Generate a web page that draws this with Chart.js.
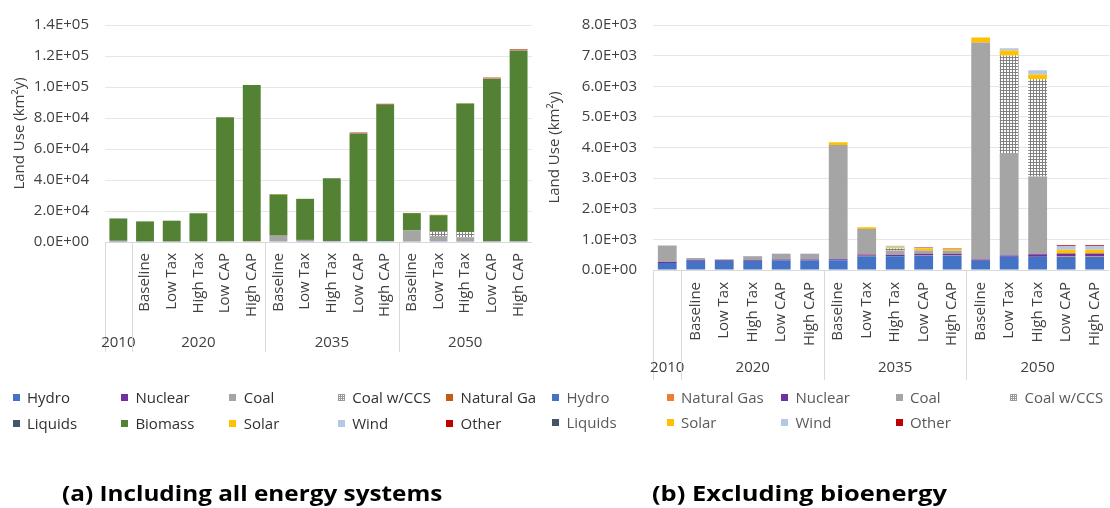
<!DOCTYPE html>
<html><head><meta charset="utf-8">
<script src="https://cdn.jsdelivr.net/npm/chart.js@4"></script>
<style>
 html,body{margin:0;padding:0;background:#fff;}
 body{width:1110px;height:508px;overflow:hidden;position:relative;font-family:'Open Sans',sans-serif;}
 canvas{position:absolute;top:0;}
 #cA{left:0;} #cB{left:535px;}
 .legend{position:absolute;top:0;height:508px;overflow:hidden;}
 .item{position:absolute;white-space:nowrap;font-size:15px;line-height:20px;height:20px;}
 .sw{position:absolute;width:7px;height:7px;top:7px;left:0;}
 .tx{position:absolute;top:0;}
 .cap{position:absolute;font-weight:700;font-size:22px;line-height:28px;white-space:nowrap;color:#000;transform-origin:left center;}
</style></head><body>
<canvas id="cA" width="548" height="375"></canvas>
<canvas id="cB" width="590" height="400"></canvas>
<div class="legend" id="legA" style="left:0;width:537px"></div>
<div class="legend" id="legB" style="left:537px;width:573px"></div>
<div class="cap" id="capA" style="left:62px;top:478px">(a) Including all energy systems</div>
<div class="cap" id="capB" style="left:652px;top:478px">(b) Excluding bioenergy</div>
<script>
// ---------- DATA ----------
const categories = ['', 'Baseline','Low Tax','High Tax','Low CAP','High CAP',
                    'Baseline','Low Tax','High Tax','Low CAP','High CAP',
                    'Baseline','Low Tax','High Tax','Low CAP','High CAP'];
const years = ['2010','2020','2035','2050'];
const yearSizes = [1,5,5,5];

const yTicksA = ['0.0E+00','2.0E+04','4.0E+04','6.0E+04','8.0E+04','1.0E+05','1.2E+05','1.4E+05'];
const yTicksB = ['0.0E+00','1.0E+03','2.0E+03','3.0E+03','4.0E+03','5.0E+03','6.0E+03','7.0E+03','8.0E+03'];

// (a) Including all energy systems
const hydroA   = [230,290,290,290,310,310, 320,450,450,470,470, 300,430,430,430,430];
const nuclearA = [30,30,30,30,30,30, 30,40,40,40,40, 40,40,85,85,85];
const coalA    = [510,70,25,120,180,180, 3735,835,150,110,100, 7090,3350,2535,0,0];
const ccsA     = [0,0,0,0,0,0, 0,0,60,0,0, 0,3185,3175,0,0];
const gasA     = [0,0,0,0,0,0, 0,15,0,20,20, 0,0,0,20,20];
const liquidsA = [25,5,5,5,5,5, 0,0,0,0,0, 0,0,0,0,0];
const biomassA = [14400,12900,13400,18100,79900,100700, 26600,26500,40500,69400,88000, 11200,10300,83100,104800,123000];
const solarA   = [0,0,0,0,0,0, 300,60,40,70,55, 165,300,160,130,130];
const windA    = [0,0,0,10,15,15, 0,0,50,20,20, 0,75,140,120,120];
const otherA   = [0,0,0,0,0,0, 0,0,0,450,450, 0,0,0,450,450];

// (b) Excluding bioenergy
const hydroB   = [230,290,290,290,310,310, 320,450,450,470,470, 300,430,430,430,430];
const gasB     = [0,0,0,0,0,0, 0,15,0,20,20, 0,0,0,20,20];
const nuclearB = [30,30,30,30,30,30, 30,40,40,40,40, 40,40,85,85,85];
const coalB    = [510,70,25,120,180,180, 3735,835,150,110,100, 7090,3350,2535,0,0];
const ccsB     = [0,0,0,0,0,0, 0,0,60,0,0, 0,3185,3175,0,0];
const liquidsB = [25,5,5,5,5,5, 0,0,0,0,0, 0,0,0,0,0];
const solarB   = [0,0,0,0,0,0, 85,60,40,70,55, 165,160,160,130,130];
const windB    = [0,0,0,10,15,15, 0,0,50,20,20, 0,75,140,120,120];
const otherB   = [0,0,0,0,0,0, 0,0,0,15,15, 0,0,0,20,20];

// ---------- STYLE ----------
const C = {hydro:'#4472C4', nuclear:'#7030A0', coal:'#A5A5A5', gasA:'#C55A11', gasB:'#ED7D31',
           liquids:'#44546A', biomass:'#548235', solar:'#FFC000', wind:'#B4C7E7', other:'#C00000'};
function ccsPattern(){
  const c=document.createElement('canvas'); c.width=3; c.height=3;
  const x=c.getContext('2d'); x.fillStyle='#ffffff'; x.fillRect(0,0,3,3);
  x.fillStyle='#808080'; x.fillRect(0,0,3,1); x.fillRect(0,0,1,3);
  return x.createPattern(c,'repeat');
}
const PAT = ccsPattern();
const FONT = {family:"'Open Sans'", size:15};
const TXT = '#404040';

const seriesA = [
  ['Hydro',hydroA,C.hydro],['Nuclear',nuclearA,C.nuclear],['Coal',coalA,C.coal],['Coal w/CCS',ccsA,PAT],
  ['Natural Gas',gasA,C.gasA],['Liquids',liquidsA,C.liquids],['Biomass',biomassA,C.biomass],
  ['Solar',solarA,C.solar],['Wind',windA,C.wind],['Other',otherA,C.other]];
const seriesB = [
  ['Hydro',hydroB,C.hydro],['Natural Gas',gasB,C.gasB],['Nuclear',nuclearB,C.nuclear],['Coal',coalB,C.coal],
  ['Coal w/CCS',ccsB,PAT],['Liquids',liquidsB,C.liquids],['Solar',solarB,C.solar],['Wind',windB,C.wind],['Other',otherB,C.other]];

const groupPlugin = {
  id:'groups',
  afterDraw(chart, args, o){
    const x = chart.scales.x, ctx = chart.ctx, bottom = chart.chartArea.bottom;
    const half = (x.getPixelForTick(1) - x.getPixelForTick(0))/2;
    ctx.save();
    ctx.strokeStyle = '#d9d9d9'; ctx.lineWidth = 1;
    ctx.font = "15px 'Open Sans'"; ctx.fillStyle = TXT; ctx.textAlign='center'; ctx.textBaseline='middle';
    let idx = 0;
    years.forEach((y, gi) => {
      const s = idx, e = idx + yearSizes[gi] - 1;
      const lx = Math.round(x.getPixelForTick(s) - half) + 0.5;
      ctx.beginPath(); ctx.moveTo(lx, bottom); ctx.lineTo(lx, bottom + o.lineLen); ctx.stroke();
      ctx.fillText(y, (x.getPixelForTick(s) + x.getPixelForTick(e))/2, bottom + o.labelOffset);
      idx += yearSizes[gi];
    });
    ctx.restore();
  }
};

function makeChart(id, series, yMax, yStep, yTicks, bp, pad, xH, xPad, grp){
  return new Chart(document.getElementById(id), {
    type:'bar',
    data:{labels:categories, datasets: series.map(s => ({label:s[0], data:s[1], backgroundColor:s[2],
      borderWidth:0, barPercentage:bp, categoryPercentage:1}))},
    options:{
      responsive:false, animation:false, devicePixelRatio:1,
      layout:{padding:pad},
      plugins:{legend:{display:false}, tooltip:{enabled:false}, groups:grp},
      scales:{
        x:{stacked:true, grid:{display:false, drawTicks:false}, border:{display:true,color:'#d9d9d9'},
           ticks:{minRotation:90, maxRotation:90, autoSkip:false, padding:xPad, font:FONT, color:TXT},
           afterFit(s){ s.height = xH; }},
        y:{stacked:true, min:0, max:yMax,
           ticks:{stepSize:yStep, padding:16, font:FONT, color:TXT, callback:(v,i)=>yTicks[i]},
           grid:{color:'#e6e6e6', drawTicks:false}, border:{display:false},
           title:{display:true, text:'Land Use (km²y)', font:FONT, color:TXT, padding:{top:11,bottom:0}},
           afterFit(s){ s.width = 118 - (id==='cA'?13:0); }}
      }
    },
    plugins:[groupPlugin]
  });
}

makeChart('cA', seriesA, 140000, 20000, yTicksA, 0.67, {left:0,right:13,top:18,bottom:0}, 133, 11, {lineLen:110, labelOffset:101});
makeChart('cB', seriesB, 8000, 1000, yTicksB, 0.66, {left:0,right:12,top:21,bottom:0}, 130, 12, {lineLen:110, labelOffset:98});

// ---------- LEGENDS ----------
function legend(elId, series, x0, colW, rows, textOff, color, offsetLeft){
  const el = document.getElementById(elId);
  series.forEach((s, i) => {
    const col = i % 5, row = Math.floor(i/5);
    const it = document.createElement('div'); it.className='item';
    it.style.left = (x0 + col*colW - offsetLeft) + 'px';
    it.style.top = (rows[row] - 10) + 'px';
    it.style.color = color;
    const sw = document.createElement('span'); sw.className='sw';
    if (s[0]==='Coal w/CCS') {
      sw.style.background = '#fff';
      sw.style.backgroundImage = 'linear-gradient(#999 1px, transparent 1px), linear-gradient(90deg, #999 1px, transparent 1px)';
      sw.style.backgroundSize = '2px 2px';
    } else sw.style.background = s[2];
    const tx = document.createElement('span'); tx.className='tx'; tx.style.left = textOff+'px'; tx.textContent = s[0];
    it.appendChild(sw); it.appendChild(tx); el.appendChild(it);
  });
}
legend('legA', seriesA, 12.5, 108.4, [397,423], 14.5, '#303030', 0);
legend('legB', seriesB, 552, 114.5, [397,422], 14.5, '#595959', 537);

// captions: fit width
[['capA',380],['capB',295]].forEach(([id,w]) => {
  const el = document.getElementById(id);
  el.style.transform = 'scaleX(' + (w/el.offsetWidth) + ')';
});
</script>
</body></html>
